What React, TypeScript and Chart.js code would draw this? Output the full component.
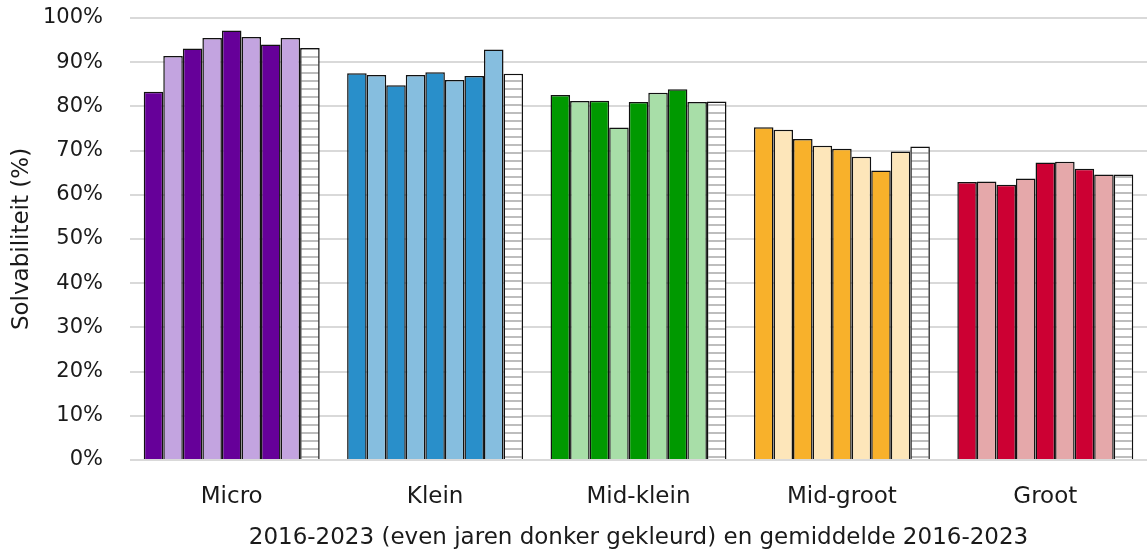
import React, { useEffect, useRef } from "react";
import { Chart, registerables } from "chart.js";

Chart.register(...registerables);

const categories = ["Micro", "Klein", "Mid-klein", "Mid-groot", "Groot"];
const yearLabels = ["2016", "2017", "2018", "2019", "2020", "2021", "2022", "2023", "Gemiddelde 2016-2023"];

const y2016 = [83.3, 87.5, 82.6, 75.3, 62.9];
const y2017 = [91.4, 87.1, 81.2, 74.7, 63.0];
const y2018 = [93.1, 84.8, 81.3, 72.6, 62.3];
const y2019 = [95.5, 87.1, 75.2, 71.1, 63.7];
const y2020 = [97.2, 87.7, 81.0, 70.4, 67.3];
const y2021 = [95.7, 86.0, 83.1, 68.6, 67.5];
const y2022 = [94.0, 86.9, 83.9, 65.5, 65.9];
const y2023 = [95.5, 92.9, 81.0, 69.8, 64.6];
const gemiddelde = [93.2, 87.4, 81.1, 70.9, 64.6];

const darkColors = ["#660099", "#298FCA", "#009900", "#F8B12B", "#CC0033"];
const lightColors = ["#C3A4E0", "#86BEDF", "#A8DEA8", "#FDE6BA", "#E5A8AA"];

const FONT = "'DejaVu Sans', sans-serif";
const TICK_SIZE = 21;
const LABEL_SIZE = 23;

export default function App() {
  const ref = useRef<HTMLCanvasElement | null>(null);

  useEffect(() => {
    const canvas = ref.current;
    if (!canvas) return;

    const pc = document.createElement("canvas");
    pc.width = 8;
    pc.height = 8;
    const pctx = pc.getContext("2d")!;
    pctx.fillStyle = "#ffffff";
    pctx.fillRect(0, 0, 8, 8);
    pctx.fillStyle = "#BDBDBD";
    pctx.fillRect(0, 0, 8, 2);
    const ctx = canvas.getContext("2d")!;
    const pattern = ctx.createPattern(pc, "repeat")!;

    const years = [y2016, y2017, y2018, y2019, y2020, y2021, y2022, y2023];
    const datasets: any[] = years.map((d, i) => ({
      label: yearLabels[i],
      data: d,
      backgroundColor: i % 2 === 0 ? darkColors : lightColors,
      borderColor: "#111111",
      borderWidth: 1.5,
    }));
    datasets.push({
      label: yearLabels[8],
      data: gemiddelde,
      backgroundColor: pattern,
      borderColor: "#111111",
      borderWidth: 1.5,
    });

    const chart = new Chart(canvas, {
      type: "bar",
      data: { labels: categories, datasets },
      options: {
        responsive: false,
        animation: false,
        layout: { padding: { top: 0, right: 0, left: 0, bottom: 0 } },
        plugins: { legend: { display: false }, tooltip: { enabled: false } },
        datasets: { bar: { categoryPercentage: 0.865, barPercentage: 1 } },
        scales: {
          x: {
            grid: { display: false, drawTicks: false },
            border: { display: false },
            ticks: { color: "#1a1a1a", font: { family: FONT, size: LABEL_SIZE }, padding: 23 },
            title: {
              display: true,
              text: "2016-2023 (even jaren donker gekleurd) en gemiddelde 2016-2023",
              color: "#1a1a1a",
              font: { family: FONT, size: LABEL_SIZE },
              padding: { top: 0, bottom: 4 },
            },
            afterFit: (s: any) => {
              s.height = 96;
              s.paddingLeft = 0;
              s.paddingRight = 0;
            },
          },
          y: {
            min: 0,
            max: 100,
            ticks: {
              stepSize: 10,
              color: "#1a1a1a",
              font: { family: FONT, size: TICK_SIZE },
              padding: 27,
              callback: (v: any) => v + "%",
            },
            grid: { color: "#D9D9D9", lineWidth: 2, drawTicks: false },
            border: { display: false },
            title: {
              display: true,
              text: "Solvabiliteit (%)",
              color: "#1a1a1a",
              font: { family: FONT, size: LABEL_SIZE },
              padding: { top: 8, bottom: 0 },
            },
            afterFit: (s: any) => {
              s.width = 130;
              s.paddingTop = 18;
              s.paddingBottom = 0;
            },
          },
        },
      },
    });
    return () => chart.destroy();
  }, []);

  return (
    <div style={{ position: "fixed", left: 0, top: 0, width: 1147, height: 556, background: "#fff" }}>
      <canvas ref={ref} width={1147} height={556} />
    </div>
  );
}
